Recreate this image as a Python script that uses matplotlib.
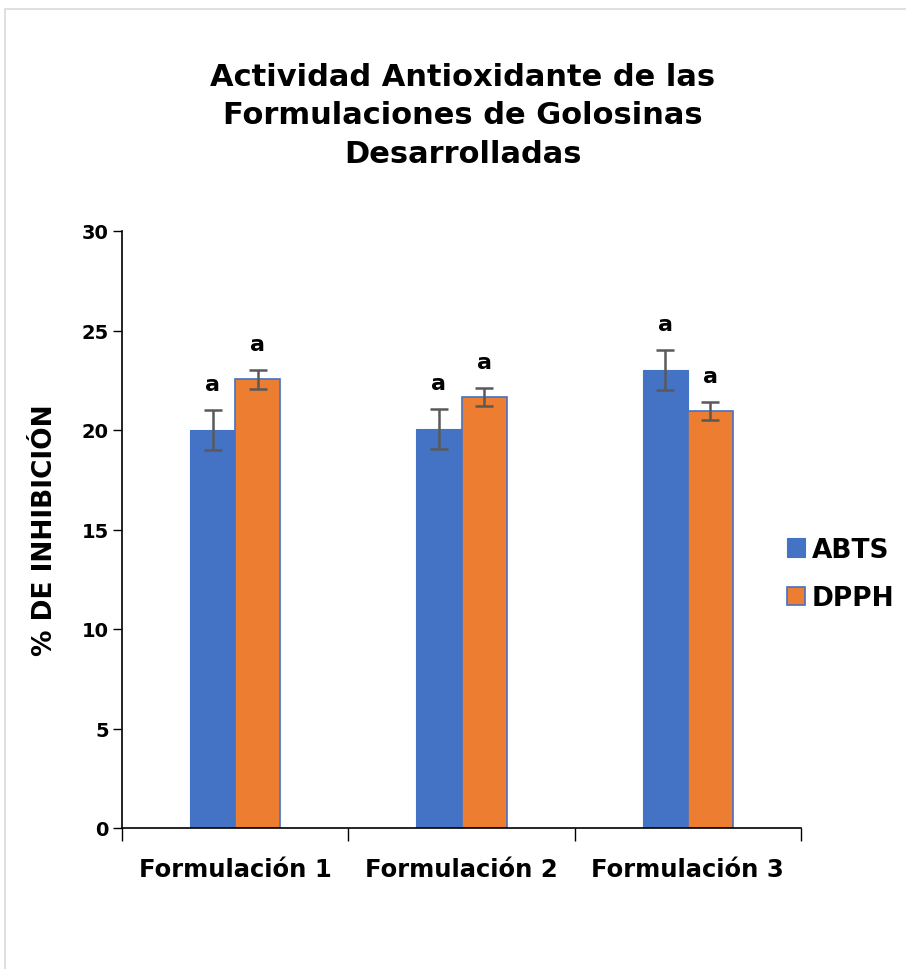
import matplotlib
matplotlib.use("Agg")
import matplotlib.pyplot as plt
from matplotlib.patches import Rectangle
import numpy as np

categories = ["Formulación 1", "Formulación 2", "Formulación 3"]
series = ["ABTS", "DPPH"]
abts = [20.0, 20.05, 23.0]
dpph = [22.55, 21.65, 20.97]
abts_err = [1.0, 1.0, 1.0]
dpph_err = [0.47, 0.45, 0.45]
abts_letters = ["a", "a", "a"]
dpph_letters = ["a", "a", "a"]
yticks = [0, 5, 10, 15, 20, 25, 30]

blue = "#4472C4"
orange = "#ED7D31"
err_color = "#595959"

plt.rcParams["font.family"] = ["DejaVu Sans"]
plt.rcParams["font.weight"] = "bold"

W, H = 906, 970
fig = plt.figure(figsize=(W / 100, H / 100), dpi=100)
fig.patch.set_facecolor("white")

# chart-area frame
fig.add_artist(Rectangle((5 / W, -0.1), 1.2, (1 - 10 / H) + 0.1,
                         transform=fig.transFigure, fill=False,
                         edgecolor="#D9D9D9", linewidth=1.2))

ax = fig.add_axes([122 / W, 1 - 829 / H, (801 - 122) / W, (829 - 232) / H])

x = np.arange(len(categories))
bw = 0.2
b1 = ax.bar(x - bw / 2, abts, bw, color=blue, edgecolor=blue, linewidth=0.8,
            label=series[0], zorder=2)
b2 = ax.bar(x + bw / 2, dpph, bw, color=orange, edgecolor=blue, linewidth=1.2,
            label=series[1], zorder=2)
ax.errorbar(x - bw / 2, abts, yerr=abts_err, fmt="none", ecolor=err_color,
            elinewidth=1.8, capsize=6.5, capthick=1.8, zorder=3)
ax.errorbar(x + bw / 2, dpph, yerr=dpph_err, fmt="none", ecolor=err_color,
            elinewidth=1.8, capsize=6.5, capthick=1.8, zorder=3)

for xi, v, e, t in zip(x - bw / 2, abts, abts_err, abts_letters):
    ax.text(xi, v + e + 0.8, t, ha="center", va="bottom", fontsize=16,
            fontweight="bold")
for xi, v, e, t in zip(x + bw / 2, dpph, dpph_err, dpph_letters):
    ax.text(xi, v + e + 0.8, t, ha="center", va="bottom", fontsize=16,
            fontweight="bold")

ax.set_xlim(-0.5, len(categories) - 0.5)
ax.set_ylim(0, 30)
ax.set_yticks(yticks)
ax.set_yticklabels([str(t) for t in yticks], fontsize=14, fontweight="bold")
ax.set_xticks(np.arange(len(categories) + 1) - 0.5)
ax.set_xticklabels([""] * (len(categories) + 1))
ax.set_xticks(x, minor=True)
ax.set_xticklabels(categories, minor=True, fontsize=17.5, fontweight="bold")
ax.tick_params(axis="x", which="major", length=9, width=1, direction="out")
ax.tick_params(axis="x", which="minor", length=0, pad=21)
ax.tick_params(axis="y", length=6.5, width=1, pad=3)

for s in ["top", "right"]:
    ax.spines[s].set_visible(False)
for s in ["left", "bottom"]:
    ax.spines[s].set_linewidth(1.2)
    ax.spines[s].set_color("black")

ax.set_ylabel("% DE INHIBICIÓN", fontsize=19, fontweight="bold", labelpad=17)

fig.text(463 / W, 1 - 116 / H,
         "Actividad Antioxidante de las\nFormulaciones de Golosinas\nDesarrolladas",
         ha="center", va="center", fontsize=22, fontweight="bold",
         linespacing=1.4)

leg = fig.legend(handles=[b1, b2], labels=series, loc="center left",
                 bbox_to_anchor=(776 / W, 1 - 575 / H), frameon=False,
                 prop={"size": 19, "weight": "bold"}, handlelength=0.7,
                 handleheight=0.7, handletextpad=0.25, labelspacing=0.85,
                 borderaxespad=0)

fig.savefig("out.png", dpi=100, facecolor="white")
